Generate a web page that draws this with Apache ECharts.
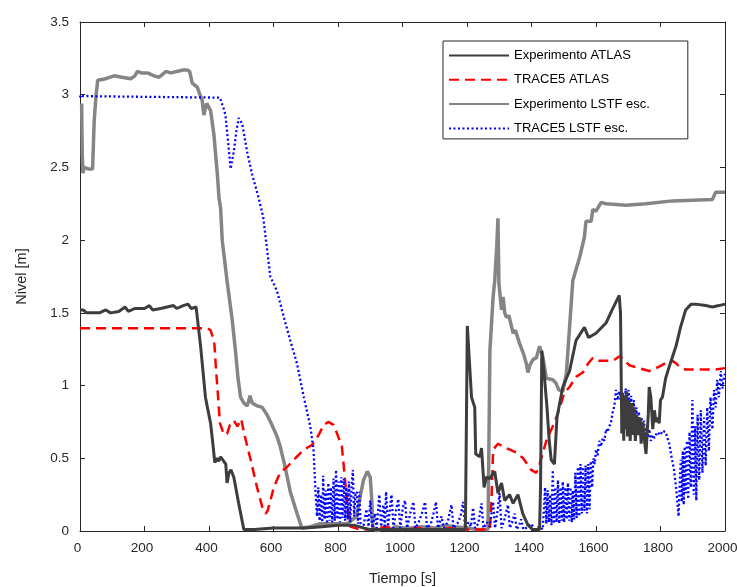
<!DOCTYPE html>
<html>
<head>
<meta charset="utf-8">
<script src="https://cdn.jsdelivr.net/npm/echarts@6/dist/echarts.min.js"></script>
<style>
html,body{margin:0;padding:0;background:#fff;}
#chart{width:737px;height:587px;}
</style>
</head>
<body>
<div id="chart"></div>
<script>
// Axis ticks
var xTicks = [0, 200, 400, 600, 800, 1000, 1200, 1400, 1600, 1800, 2000];
var yTicks = [0, 0.5, 1, 1.5, 2, 2.5, 3, 3.5];

// Series names
var seriesNames = ['Experimento ATLAS', 'TRACE5 ATLAS', 'Experimento LSTF esc.', 'TRACE5 LSTF esc.'];

// Experimento ATLAS  [t, nivel]
var expAtlas = [[0,1.52],[10,1.52],[20,1.50],[40,1.50],[60,1.50],[80,1.52],[95,1.50],[120,1.51],[140,1.54],[150,1.51],[170,1.53],[200,1.53],[215,1.55],[225,1.52],[250,1.53],[270,1.54],[290,1.55],[300,1.53],[320,1.55],[335,1.56],[345,1.53],[360,1.54],[364,1.53],[374,1.27],[389,0.92],[395,0.85],[405,0.74],[412,0.60],[418,0.47],[425,0.50],[430,0.48],[436,0.51],[441,0.50],[452,0.46],[456,0.33],[462,0.40],[468,0.42],[477,0.37],[492,0.19],[508,0.01],[540,0.01],[600,0.02],[650,0.02],[700,0.02],[750,0.03],[800,0.04],[850,0.04],[880,0.02],[900,0.01],[950,0.01],[1000,0.01],[1100,0.01],[1150,0.01],[1195,0.01],[1201,1.41],[1214,0.92],[1224,0.85],[1227,0.53],[1233,0.52],[1240,0.51],[1245,0.57],[1253,0.30],[1260,0.37],[1270,0.36],[1276,0.37],[1286,0.41],[1296,0.26],[1307,0.33],[1317,0.21],[1332,0.25],[1343,0.19],[1358,0.25],[1373,0.12],[1389,0.04],[1404,0.01],[1425,0.01],[1428,0.30],[1432,1.24],[1440,1.06],[1448,0.85],[1455,0.62],[1461,0.49],[1471,0.46],[1479,0.78],[1497,0.99],[1518,1.10],[1538,1.31],[1564,1.40],[1577,1.33],[1600,1.36],[1631,1.43],[1650,1.52],[1672,1.62],[1676,1.50],[1680,0.67],[1683,0.95],[1686,0.62],[1689,0.93],[1692,0.70],[1695,0.96],[1698,0.65],[1702,0.90],[1706,0.62],[1710,0.88],[1714,0.66],[1718,0.85],[1722,0.62],[1726,0.80],[1730,0.66],[1736,0.78],[1740,0.60],[1745,0.75],[1750,0.63],[1755,0.53],[1762,0.80],[1765,0.99],[1770,0.92],[1776,0.70],[1781,0.83],[1786,0.75],[1791,0.78],[1796,0.74],[1800,0.90],[1806,0.92],[1816,1.05],[1827,1.13],[1848,1.27],[1862,1.40],[1878,1.52],[1895,1.56],[1909,1.56],[1940,1.55],[1961,1.54],[1981,1.55],[2000,1.56]];

// TRACE5 ATLAS
var traceAtlas = [[0,1.395],[100,1.395],[200,1.395],[300,1.395],[395,1.395],[405,1.38],[412,1.33],[417,1.28],[422,1.10],[426,0.99],[434,0.74],[442,0.69],[448,0.66],[456,0.67],[465,0.73],[477,0.76],[488,0.72],[500,0.77],[510,0.66],[529,0.49],[549,0.30],[568,0.14],[576,0.12],[582,0.14],[601,0.30],[620,0.40],[642,0.44],[663,0.49],[694,0.56],[719,0.59],[740,0.66],[756,0.73],[770,0.75],[786,0.73],[797,0.67],[812,0.58],[822,0.35],[828,0.21],[833,0.08],[838,0.03],[869,0.01],[900,0.01],[950,0.03],[980,0.01],[1000,0.01],[1050,0.02],[1100,0.01],[1150,0.02],[1200,0.01],[1250,0.01],[1271,0.01],[1276,0.21],[1281,0.56],[1296,0.60],[1322,0.57],[1353,0.54],[1374,0.50],[1399,0.42],[1415,0.40],[1425,0.46],[1446,0.62],[1466,0.72],[1482,0.81],[1502,0.95],[1518,0.99],[1538,1.06],[1559,1.09],[1575,1.15],[1590,1.19],[1610,1.17],[1630,1.17],[1652,1.17],[1672,1.20],[1680,1.19],[1703,1.14],[1734,1.12],[1765,1.10],[1796,1.13],[1820,1.16],[1837,1.17],[1850,1.15],[1858,1.13],[1878,1.11],[1940,1.11],[1970,1.11],[2000,1.12]];

// Experimento LSTF esc.
var expLstf = [[5,2.94],[7,2.60],[9,2.46],[13,2.50],[19,2.50],[25,2.49],[39,2.49],[44,2.82],[50,3.00],[55,3.10],[80,3.11],[106,3.13],[130,3.12],[158,3.11],[170,3.13],[178,3.16],[190,3.15],[209,3.15],[230,3.13],[245,3.12],[256,3.14],[266,3.16],[281,3.15],[300,3.16],[320,3.17],[333,3.17],[340,3.16],[348,3.08],[364,3.05],[372,3.00],[379,2.96],[384,2.86],[388,2.90],[393,2.94],[398,2.92],[405,2.89],[415,2.73],[426,2.45],[431,2.29],[436,2.22],[441,2.00],[456,1.72],[472,1.45],[482,1.24],[490,1.05],[498,0.92],[508,0.88],[518,0.86],[524,0.90],[527,0.93],[531,0.90],[534,0.88],[550,0.86],[565,0.85],[580,0.80],[595,0.73],[611,0.65],[621,0.58],[637,0.43],[652,0.27],[673,0.12],[688,0.02],[714,0.03],[745,0.05],[790,0.05],[828,0.05],[858,0.10],[870,0.25],[879,0.35],[891,0.41],[900,0.37],[905,0.20],[908,0.03],[920,0.00],[940,0.02],[960,0.01],[980,0.03],[1000,0.02],[1030,0.02],[1060,0.03],[1100,0.02],[1130,0.04],[1160,0.03],[1200,0.02],[1230,0.01],[1265,0.01],[1268,0.60],[1271,1.24],[1281,1.61],[1286,1.72],[1292,1.95],[1296,2.15],[1299,1.70],[1307,1.52],[1312,1.61],[1317,1.50],[1322,1.47],[1330,1.48],[1343,1.36],[1350,1.38],[1363,1.29],[1375,1.22],[1384,1.15],[1389,1.09],[1395,1.14],[1405,1.18],[1415,1.19],[1425,1.27],[1435,1.20],[1446,1.05],[1466,1.04],[1475,1.02],[1485,0.97],[1497,0.96],[1508,1.08],[1518,1.40],[1528,1.72],[1549,1.88],[1564,2.02],[1569,2.13],[1585,2.13],[1590,2.21],[1600,2.20],[1616,2.26],[1631,2.25],[1693,2.24],[1755,2.25],[1837,2.27],[1961,2.28],[1971,2.33],[2000,2.33]];

// TRACE5 LSTF esc.
var traceLstf = [[0,2.98],[3,3.00],[10,2.99],[434,2.98],[446,2.90],[451,2.86],[459,2.68],[467,2.49],[472,2.55],[477,2.61],[485,2.75],[492,2.84],[498,2.83],[503,2.80],[518,2.61],[534,2.45],[554,2.29],[568,2.16],[590,1.75],[611,1.65],[632,1.47],[652,1.31],[673,1.15],[694,0.92],[714,0.72],[724,0.56],[730,0.28],[735,0.10],
[739,0.30],[743,0.07],[747,0.25],[751,0.06],[754,0.38],[758,0.08],[762,0.28],[766,0.05],[770,0.33],[774,0.07],[778,0.30],[782,0.06],[786,0.36],[790,0.07],[794,0.42],[798,0.08],[802,0.34],[806,0.06],[810,0.37],[814,0.09],[818,0.36],[822,0.07],[826,0.30],[830,0.08],[834,0.34],[838,0.06],[842,0.30],[846,0.42],[850,0.10],[854,0.25],[858,0.27],[862,0.05],[866,0.27],[870,0.05],
[878,0.02],[888,0.15],[895,0.03],[900,0.21],[906,0.02],[915,0.12],[920,0.02],[928,0.25],[934,0.03],[941,0.18],[945,0.02],[949,0.27],[955,0.03],[961,0.15],[966,0.25],[972,0.02],[980,0.14],[987,0.22],[993,0.02],[1001,0.16],[1008,0.21],[1014,0.02],[1024,0.12],[1034,0.20],[1040,0.02],[1050,0.06],[1060,0.12],[1070,0.20],[1076,0.02],[1088,0.05],[1096,0.12],[1104,0.20],[1110,0.02],[1121,0.10],[1128,0.02],[1140,0.06],[1152,0.18],[1158,0.02],[1170,0.05],[1180,0.10],[1188,0.20],[1194,0.02],[1205,0.06],[1212,0.03],[1219,0.16],[1225,0.02],[1235,0.05],[1245,0.19],[1251,0.02],[1262,0.06],[1270,0.03],[1281,0.20],[1287,0.02],[1295,0.14],[1301,0.26],[1307,0.02],[1316,0.08],[1327,0.18],[1333,0.02],[1340,0.06],[1348,0.12],[1354,0.01],[1362,0.04],[1368,0.08],[1375,0.01],[1390,0.03],[1399,0.05],[1410,0.01],[1425,0.03],[1435,0.01],
[1442,0.30],[1446,0.05],[1450,0.28],[1454,0.06],[1458,0.25],[1462,0.04],[1466,0.42],[1470,0.05],[1474,0.30],[1478,0.06],[1482,0.35],[1486,0.05],[1490,0.30],[1494,0.07],[1497,0.34],[1501,0.06],[1505,0.30],[1509,0.08],[1513,0.33],[1517,0.07],[1521,0.30],[1525,0.06],[1528,0.28],[1532,0.08],[1536,0.40],[1540,0.09],[1544,0.44],[1548,0.10],[1552,0.46],[1556,0.12],[1560,0.44],[1564,0.14],[1568,0.45],[1572,0.12],[1576,0.46],[1580,0.15],[1584,0.48],[1588,0.30],[1592,0.50],
[1596,0.46],[1600,0.56],[1605,0.52],[1610,0.62],[1615,0.58],[1621,0.64],[1626,0.62],[1631,0.70],[1636,0.68],[1641,0.72],[1646,0.74],[1652,0.82],[1657,0.86],[1662,0.97],[1667,0.90],[1672,0.96],[1678,0.88],[1683,0.92],[1688,0.85],[1692,0.98],[1697,0.80],[1701,0.97],[1705,0.78],[1709,0.93],[1713,0.75],[1717,0.90],[1721,0.72],[1725,0.85],[1729,0.70],[1733,0.82],[1737,0.66],[1741,0.78],[1745,0.64],[1749,0.76],[1753,0.62],[1757,0.72],[1761,0.64],[1765,0.70],[1770,0.62],[1776,0.66],[1781,0.64],[1790,0.68],[1800,0.66],[1806,0.69],[1816,0.68],[1827,0.60],[1835,0.50],[1842,0.42],[1850,0.26],[1856,0.10],[1860,0.35],[1863,0.49],[1866,0.20],[1869,0.55],[1872,0.18],[1875,0.58],[1878,0.26],[1882,0.62],[1886,0.22],[1890,0.68],[1894,0.30],[1899,0.90],[1903,0.25],[1907,0.72],[1911,0.21],[1915,0.80],[1920,0.35],[1925,0.83],[1930,0.40],[1935,0.78],[1940,0.45],[1945,0.85],[1950,0.55],[1955,0.92],[1961,0.70],[1966,0.97],[1971,0.85],[1976,1.04],[1981,0.92],[1987,1.10],[1992,0.98],[1997,1.06],[2000,1.08]];

var FONT = '"Liberation Sans", Arial, Helvetica, sans-serif';
var AXC = '#262626';

var chart = echarts.init(document.getElementById('chart'), null, {renderer: 'canvas'});

function xAx(pos, show) {
  return {
    type: 'value', position: pos, min: xTicks[0], max: xTicks[xTicks.length - 1],
    interval: xTicks[1] - xTicks[0],
    name: show ? 'Tiempo [s]' : '', nameLocation: 'middle', nameGap: 40,
    nameTextStyle: {fontFamily: FONT, fontSize: 14.5, color: AXC},
    axisLine: {show: true, onZero: false, lineStyle: {color: AXC, width: 1}},
    axisTick: {show: true, inside: true, length: 5, lineStyle: {color: AXC}},
    axisLabel: {show: show, fontFamily: FONT, fontSize: 13.5, color: AXC, margin: 10,
                padding: [0, 5, 0, 0],
                formatter: function (v) { return String(v); }},
    splitLine: {show: false}
  };
}
function yAx(pos, show) {
  return {
    type: 'value', position: pos, min: yTicks[0], max: yTicks[yTicks.length - 1],
    interval: yTicks[1] - yTicks[0],
    name: show ? 'Nivel [m]' : '', nameLocation: 'middle', nameGap: 51,
    nameTextStyle: {fontFamily: FONT, fontSize: 14.5, color: AXC},
    axisLine: {show: true, onZero: false, lineStyle: {color: AXC, width: 1}},
    axisTick: {show: true, inside: true, length: 5, lineStyle: {color: AXC}},
    axisLabel: {show: show, fontFamily: FONT, fontSize: 13.5, color: AXC, margin: 11,
                formatter: function (v) { return String(v); }},
    splitLine: {show: false}
  };
}

var option = {
  animation: false,
  backgroundColor: '#ffffff',
  grid: {left: 80, right: 12, top: 22, bottom: 56, containLabel: false, outerBoundsMode: 'none'},
  xAxis: [xAx('bottom', true), xAx('top', false)],
  yAxis: [yAx('left', true), yAx('right', false)],
  legend: {
    orient: 'vertical', left: 443, top: 41,
    data: seriesNames,
    itemWidth: 60, itemHeight: 12, itemGap: 11.3,
    padding: [8, 38, 4, 5],
    itemStyle: {opacity: 0},
    backgroundColor: '#ffffff', borderColor: '#262626', borderWidth: 1,
    textStyle: {fontFamily: FONT, fontSize: 13, color: '#000'}
  },
  series: [
    {name: seriesNames[2], type: 'line', data: expLstf, symbol: 'none', smooth: false,
     lineStyle: {color: '#858585', width: 3.5}, itemStyle: {color: '#858585'}},
    {name: seriesNames[1], type: 'line', data: traceAtlas, symbol: 'none',
     lineStyle: {color: '#ff0000', width: 2.5, type: [10, 6]}, itemStyle: {color: '#ff0000'}},
    {name: seriesNames[3], type: 'line', data: traceLstf, symbol: 'none',
     lineStyle: {color: '#0000ff', width: 2.3, type: [2, 2.5]}, itemStyle: {color: '#0000ff'}},
    {name: seriesNames[0], type: 'line', data: expAtlas, symbol: 'none',
     lineStyle: {color: '#3d3d3d', width: 3}, itemStyle: {color: '#3d3d3d'}}
  ]
};
chart.setOption(option);
</script>
</body>
</html>
